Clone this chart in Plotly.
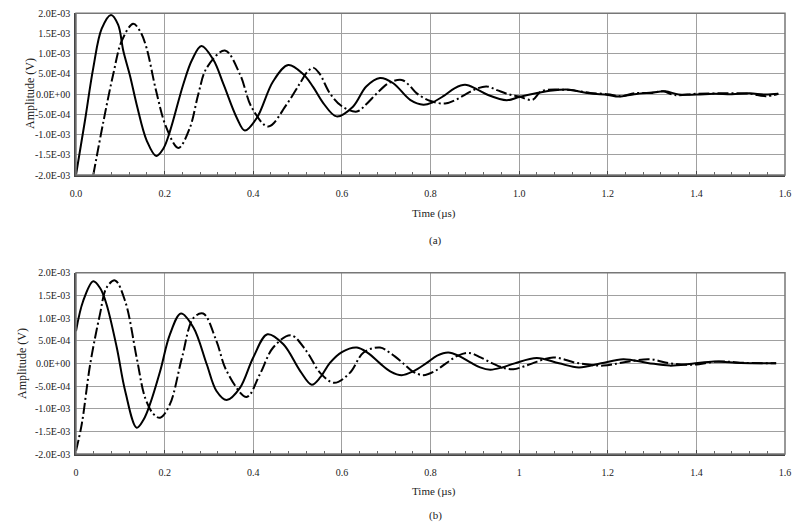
import plotly.graph_objects as go

# ---- data (amplitude values in units of 1E-03 V, time in µs) ----
a_solid_t = [0.000, 0.020, 0.039, 0.058, 0.079, 0.095, 0.107, 0.122, 0.137, 0.160, 0.181, 0.197, 0.212,
             0.242, 0.262, 0.283, 0.310, 0.333, 0.363, 0.381, 0.408, 0.445, 0.479, 0.513, 0.535, 0.558,
             0.588, 0.625, 0.655, 0.686, 0.716, 0.754, 0.784, 0.805, 0.829, 0.855, 0.878, 0.905, 0.930,
             0.972, 1.000, 1.038, 1.075, 1.113, 1.158, 1.200, 1.225, 1.260, 1.300, 1.330, 1.360, 1.400,
             1.440, 1.480, 1.520, 1.555, 1.585]
a_solid_v = [-2.00, -0.67, 0.65, 1.62, 1.96, 1.72, 1.06, 0.45, -0.26, -1.16, -1.53, -1.35, -0.92,
             0.24, 0.85, 1.19, 0.85, 0.24, -0.59, -0.90, -0.59, 0.32, 0.72, 0.49, 0.18, -0.22,
             -0.55, -0.31, 0.19, 0.40, 0.27, -0.14, -0.26, -0.20, -0.05, 0.15, 0.23, 0.12, -0.02,
             -0.15, -0.07, 0.02, 0.09, 0.11, 0.02, -0.02, -0.06, 0.00, 0.04, 0.07, -0.01, -0.01,
             0.01, 0.00, 0.02, -0.01, 0.01]

a_dash_t = [0.039, 0.062, 0.084, 0.103, 0.129, 0.145, 0.159, 0.181, 0.204, 0.231, 0.257, 0.276, 0.295,
            0.336, 0.370, 0.397, 0.434, 0.475, 0.506, 0.522, 0.536, 0.550, 0.573, 0.600, 0.634, 0.655,
            0.679, 0.705, 0.735, 0.752, 0.769, 0.800, 0.833, 0.857, 0.880, 0.905, 0.927, 0.950, 0.975,
            1.000, 1.030, 1.050, 1.100, 1.130, 1.160, 1.200, 1.230, 1.260, 1.300, 1.325, 1.350, 1.400,
            1.460, 1.520, 1.557, 1.585]
a_dash_v = [-2.00, -0.67, 0.49, 1.31, 1.74, 1.55, 1.15, 0.07, -0.83, -1.33, -0.83, 0.00, 0.65,
            1.08, 0.49, -0.34, -0.80, -0.26, 0.28, 0.55, 0.65, 0.50, 0.02, -0.30, -0.43, -0.25,
            0.02, 0.27, 0.35, 0.22, 0.02, -0.17, -0.23, -0.14, 0.00, 0.14, 0.19, 0.10, 0.00,
            -0.06, -0.14, 0.07, 0.11, 0.08, 0.03, 0.00, -0.05, 0.02, 0.03, 0.07, -0.02, 0.01,
            0.02, 0.01, -0.05, 0.01]

b_solid_t = [0.000, 0.016, 0.039, 0.055, 0.069, 0.092, 0.111, 0.137, 0.152, 0.167, 0.190, 0.212, 0.237,
             0.265, 0.295, 0.317, 0.340, 0.370, 0.400, 0.432, 0.468, 0.506, 0.532, 0.552, 0.573, 0.600,
             0.634, 0.660, 0.686, 0.710, 0.735, 0.762, 0.790, 0.815, 0.840, 0.865, 0.890, 0.912, 0.935,
             0.962, 0.990, 1.040, 1.090, 1.135, 1.185, 1.235, 1.290, 1.340, 1.390, 1.440, 1.500, 1.580]
b_solid_v = [0.71, 1.37, 1.81, 1.65, 1.30, 0.35, -0.61, -1.42, -1.25, -0.90, -0.17, 0.64, 1.10,
             0.79, -0.02, -0.61, -0.81, -0.54, 0.13, 0.64, 0.42, -0.17, -0.47, -0.30, 0.01, 0.25,
             0.35, 0.22, 0.00, -0.18, -0.26, -0.17, 0.00, 0.17, 0.24, 0.16, 0.02, -0.09, -0.14,
             -0.09, 0.00, 0.12, 0.00, -0.09, 0.00, 0.09, 0.01, -0.05, -0.01, 0.04, 0.01, 0.00]

b_dash_t = [0.000, 0.013, 0.032, 0.054, 0.069, 0.088, 0.111, 0.137, 0.156, 0.175, 0.190, 0.212, 0.239,
            0.265, 0.287, 0.317, 0.340, 0.385, 0.415, 0.445, 0.485, 0.520, 0.551, 0.583, 0.618, 0.649,
            0.686, 0.710, 0.735, 0.760, 0.784, 0.810, 0.835, 0.862, 0.887, 0.913, 0.940, 0.965, 0.987,
            1.010, 1.030, 1.077, 1.130, 1.190, 1.240, 1.295, 1.340, 1.390, 1.450, 1.510, 1.580]
b_dash_v = [-1.93, -1.34, -0.02, 1.08, 1.67, 1.83, 1.37, 0.12, -0.76, -1.12, -1.20, -0.90, 0.12,
            1.00, 1.10, 0.49, -0.17, -0.74, -0.24, 0.35, 0.62, 0.27, -0.21, -0.43, -0.21, 0.24,
            0.35, 0.22, 0.03, -0.18, -0.26, -0.17, 0.00, 0.17, 0.23, 0.13, 0.00, -0.10, -0.13,
            -0.07, 0.00, 0.13, 0.01, -0.05, 0.03, 0.09, 0.00, -0.03, 0.04, 0.01, 0.00]

y_tickvals = [-2.0e-3, -1.5e-3, -1.0e-3, -5.0e-4, 0.0, 5.0e-4, 1.0e-3, 1.5e-3, 2.0e-3]
y_ticktext = ["-2.0E-03", "-1.5E-03", "-1.0E-03", "-5.0E-04", "0.0E+00",
              "5.0E-04", "1.0E-03", "1.5E-03", "2.0E-03"]
x_tickvals = [0.0, 0.2, 0.4, 0.6, 0.8, 1.0, 1.2, 1.4, 1.6]
xa_ticktext = ["0.0", "0.2", "0.4", "0.6", "0.8", "1.0", "1.2", "1.4", "1.6"]
xb_ticktext = ["0", "0.2", "0.4", "0.6", "0.8", "1", "1.2", "1.4", "1.6"]

SCALE = 1e-3
FONT = "Liberation Serif, Times New Roman, serif"
DASH = "11px,3px,2px,3px"

def volts(v):
    return [val * SCALE for val in v]

fig = go.Figure()
fig.add_trace(go.Scatter(x=a_solid_t, y=volts(a_solid_v), mode="lines", xaxis="x", yaxis="y",
                         line=dict(color="black", width=2, shape="spline", smoothing=1.0), showlegend=False))
fig.add_trace(go.Scatter(x=a_dash_t, y=volts(a_dash_v), mode="lines", xaxis="x", yaxis="y",
                         line=dict(color="black", width=2, shape="spline", smoothing=1.0, dash=DASH), showlegend=False))
fig.add_trace(go.Scatter(x=b_solid_t, y=volts(b_solid_v), mode="lines", xaxis="x2", yaxis="y2",
                         line=dict(color="black", width=2, shape="spline", smoothing=1.0), showlegend=False))
fig.add_trace(go.Scatter(x=b_dash_t, y=volts(b_dash_v), mode="lines", xaxis="x2", yaxis="y2",
                         line=dict(color="black", width=2, shape="spline", smoothing=1.0, dash=DASH), showlegend=False))

# page body has an 8px margin: the figure fills the rest of the window; positions given in window pixels
OFF = 8
W, H = 800 - OFF, 526 - OFF

def px(x):
    return (x - OFF) / W

def py(y):
    return 1 - (y - OFF) / H

xdom = [px(76), px(785)]
ydom_a = [py(175), py(13.3)]
ydom_b = [py(454), py(272.7)]

def xaxis_cfg(dom_anchor, ticktext):
    return dict(domain=xdom, anchor=dom_anchor, range=[0, 1.6], tickvals=x_tickvals, ticktext=ticktext,
                automargin=False, ticklabeloverflow="allow",
                showgrid=True, gridcolor="#a0a0a0", gridwidth=1, zeroline=False,
                showline=True, linecolor="#444", linewidth=1.5, mirror=False,
                ticks="inside", ticklen=4, tickcolor="#444",
                minor=dict(dtick=0.04, tick0=0, ticks="inside", ticklen=3, tickcolor="#666", showgrid=False),
                tickfont=dict(family=FONT, size=10, color="#222"), ticklabelstandoff=8, fixedrange=True)

def yaxis_cfg(dom, anchor):
    return dict(domain=dom, anchor=anchor, range=[-2.0e-3, 2.0e-3], tickvals=y_tickvals, ticktext=y_ticktext,
                automargin=False, ticklabeloverflow="allow",
                showgrid=True, gridcolor="#a0a0a0", gridwidth=1, zeroline=False,
                showline=True, linecolor="#444", linewidth=1.5, mirror=False, ticks="",
                tickfont=dict(family=FONT, size=10, color="#222"), ticklabelstandoff=2, fixedrange=True)

fig.update_layout(
    width=W, height=H,
    margin=dict(l=0, r=0, t=0, b=0, autoexpand=False),
    paper_bgcolor="white", plot_bgcolor="white",
    xaxis=xaxis_cfg("y", xa_ticktext),
    yaxis=yaxis_cfg(ydom_a, "x"),
    xaxis2=xaxis_cfg("y2", xb_ticktext),
    yaxis2=yaxis_cfg(ydom_b, "x2"),
    shapes=[
        dict(type="rect", xref="x domain", yref="y domain", x0=0, x1=1, y0=0, y1=1,
             line=dict(color="#777", width=1.5), layer="above"),
        dict(type="rect", xref="x2 domain", yref="y2 domain", x0=0, x1=1, y0=0, y1=1,
             line=dict(color="#777", width=1.5), layer="above"),
    ],
    annotations=[
        dict(text="Amplitude (V)", x=px(30), y=py(94), xref="paper", yref="paper", textangle=-90,
             showarrow=False, font=dict(family=FONT, size=12, color="#222"), xanchor="center", yanchor="middle"),
        dict(text="Amplitude (V)", x=px(22), y=py(364), xref="paper", yref="paper", textangle=-90,
             showarrow=False, font=dict(family=FONT, size=12, color="#222"), xanchor="center", yanchor="middle"),
        dict(text="Time (\u00b5s)", x=px(434), y=py(213), xref="paper", yref="paper",
             showarrow=False, font=dict(family=FONT, size=11, color="#222"), xanchor="center", yanchor="middle"),
        dict(text="(a)", x=px(435), y=py(240), xref="paper", yref="paper",
             showarrow=False, font=dict(family=FONT, size=11, color="#222"), xanchor="center", yanchor="middle"),
        dict(text="Time (\u00b5s)", x=px(434), y=py(491), xref="paper", yref="paper",
             showarrow=False, font=dict(family=FONT, size=11, color="#222"), xanchor="center", yanchor="middle"),
        dict(text="(b)", x=px(435), y=py(515), xref="paper", yref="paper",
             showarrow=False, font=dict(family=FONT, size=11, color="#222"), xanchor="center", yanchor="middle"),
    ],
)

fig.write_html("out.html")
